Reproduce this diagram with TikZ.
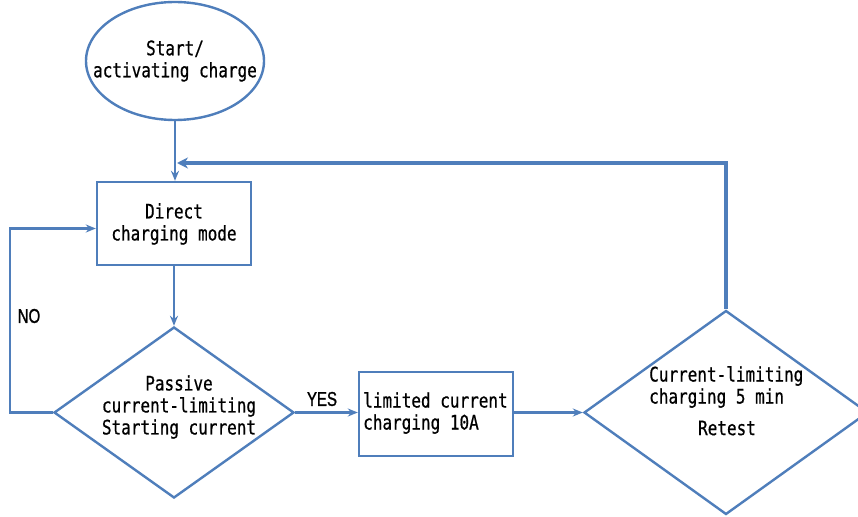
\documentclass[tikz,border=0pt]{standalone}
\usepackage{fontspec}
\setmainfont{DejaVu Sans Mono}[FakeStretch=0.8,FakeBold=0.6]
\newfontfamily\lblfont{Liberation Sans}[FakeStretch=0.75,FakeBold=1.2]
\usetikzlibrary{shapes.geometric,arrows.meta}
\definecolor{lineblue}{HTML}{4F7EBB}
\begin{document}
\begin{tikzpicture}[x=1pt,y=-1pt,
  shapebox/.style={draw=lineblue,line width=2.4pt,inner sep=0pt},
  txt/.style={font=\fontsize{20}{22}\selectfont,inner sep=0pt,text=black},
  lbl/.style={font=\lblfont\fontsize{20}{22}\selectfont,inner sep=0pt,text=black},
  arr/.style={draw=lineblue,line width=2.6pt,-{Stealth[length=10pt,width=8pt]}},
  arrthick/.style={draw=lineblue,line width=4pt,-{Stealth[length=11pt,width=11pt]}}]
\useasboundingbox (0,0) rectangle (858,516);
\fill[white] (0,0) rectangle (858,516);
% shapes
\node[shapebox,ellipse,minimum width=178pt,minimum height=118pt] (start) at (175,61) {};
\node[shapebox,rectangle,minimum width=154pt,minimum height=83pt] (direct) at (174,223.5) {};
\node[shapebox,diamond,minimum width=240pt,minimum height=171pt] (d1) at (174,412.5) {};
\node[shapebox,rectangle,minimum width=154pt,minimum height=84pt] (lim) at (436,414) {};
\node[shapebox,diamond,minimum width=284pt,minimum height=204pt] (d2) at (726,412.5) {};
% texts
\node[txt,align=center] (startT) at (175,61) {Start/\\activating charge};
\node[txt,align=center] (directT) at (174,224) {Direct\\charging mode};
\node[txt,align=center] (d1T) at (179,407) {Passive\\current-limiting\\Starting current};
\node[txt,align=left,anchor=west] (limT) at (363,413) {limited current\\charging 10A};
\node[txt,align=left,anchor=west] (d2T) at (649,387) {Current-limiting\\charging 5 min};
\node[txt] (retest) at (727,428) {Retest};
\node[lbl] (no) at (29,316) {NO};
\node[lbl] (yes) at (322,399) {YES};
% connectors
\coordinate (noCorner) at (10,412.5);
\coordinate (noIn) at ([yshift=-5pt]direct.west);
\coordinate (fbEnd) at (177,163);
\draw[arr] (start.south) -- (start.south |- direct.north);
\draw[arr] (direct) -- (d1);
\draw[arr] (d1.east) -- (d1.east -| lim.west);
\draw[arr] (lim.east |- d2.west) -- (d2.west);
\draw[arr] (d1.west) -- (noCorner) |- (noIn);
\draw[arrthick] (d2.north) |- (fbEnd);
\end{tikzpicture}
\end{document}
